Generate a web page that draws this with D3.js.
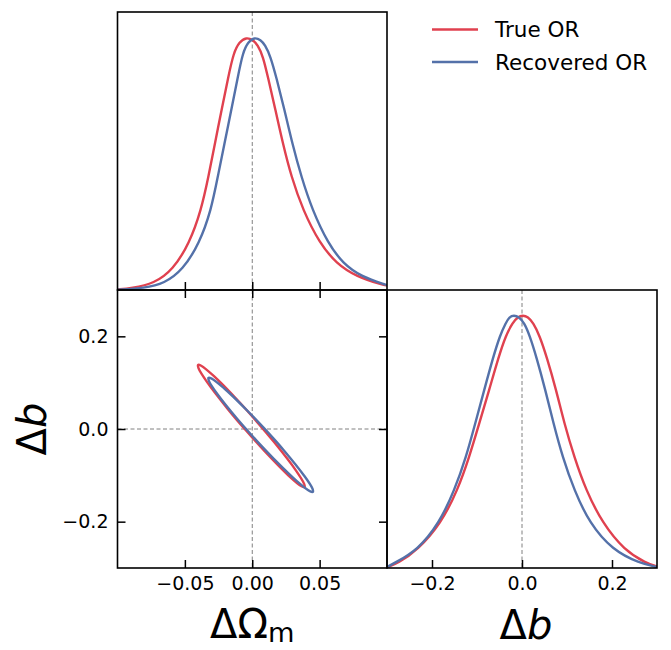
<!DOCTYPE html>
<html>
<head>
<meta charset="utf-8">
<script src="https://cdn.jsdelivr.net/npm/d3@7"></script>
<style>
  html, body { margin: 0; padding: 0; background: #fff; }
  svg { display: block; font-family: "DejaVu Sans", sans-serif; }
</style>
</head>
<body>
<svg id="chart" width="671" height="650"></svg>
<script>
// ---------------- data ----------------
const seriesNames = ["True OR", "Recovered OR"];
const seriesColors = ["#e0414f", "#5471a9"];

const omTicks = [-0.05, 0.00, 0.05];
const bTicks = [-0.2, 0.0, 0.2];

// marginal of ΔΩm: [ΔΩm, normalised density]
const omTrue = [[-0.100,0.002],[-0.0899,0.007],[-0.0726,0.026],[-0.0590,0.079],[-0.0466,0.185],[-0.0379,0.316],[-0.0325,0.448],[-0.0277,0.580],[-0.0228,0.711],[-0.0178,0.843],[-0.0138,0.940],[-0.0095,0.982],[-0.0045,1.000],[0.0005,0.990],[0.0040,0.970],[0.0080,0.925],[0.0116,0.843],[0.0173,0.711],[0.0227,0.580],[0.0290,0.448],[0.0376,0.316],[0.0500,0.185],[0.0624,0.105],[0.0773,0.053],[0.0970,0.020],[0.100,0.018]];
const omRec = [[-0.100,0.001],[-0.0800,0.007],[-0.0652,0.026],[-0.0516,0.079],[-0.0392,0.185],[-0.0305,0.316],[-0.0256,0.448],[-0.0206,0.580],[-0.0156,0.711],[-0.0107,0.843],[-0.0070,0.940],[-0.0030,0.982],[0.0017,1.000],[0.0062,0.990],[0.0095,0.970],[0.0135,0.925],[0.0178,0.843],[0.0240,0.711],[0.0297,0.580],[0.0364,0.448],[0.0446,0.316],[0.0562,0.185],[0.0673,0.105],[0.0810,0.053],[0.0996,0.020],[0.100,0.020]];

// marginal of Δb: [Δb, normalised density]
const bTrue = [[-0.300,0.003],[-0.276,0.019],[-0.232,0.071],[-0.180,0.177],[-0.143,0.308],[-0.117,0.440],[-0.095,0.572],[-0.073,0.704],[-0.052,0.835],[-0.036,0.920],[-0.021,0.970],[-0.009,0.994],[0.002,1.000],[0.013,0.994],[0.025,0.970],[0.039,0.920],[0.055,0.835],[0.076,0.704],[0.094,0.572],[0.116,0.440],[0.142,0.308],[0.179,0.177],[0.227,0.071],[0.276,0.019],[0.300,0.006]];
const bRec = [[-0.300,0.004],[-0.284,0.019],[-0.232,0.071],[-0.184,0.177],[-0.150,0.308],[-0.124,0.440],[-0.104,0.572],[-0.084,0.704],[-0.064,0.835],[-0.049,0.920],[-0.036,0.970],[-0.028,0.994],[-0.018,1.000],[-0.007,0.994],[0.005,0.970],[0.017,0.920],[0.032,0.835],[0.052,0.704],[0.070,0.572],[0.090,0.440],[0.116,0.308],[0.150,0.177],[0.201,0.071],[0.261,0.019],[0.300,0.004]];

// joint contour: [ΔΩm, Δb] points around each closed contour
const jointTrue = [[0.0389,-0.1254],[0.0365,-0.1235],[0.0271,-0.1009],[0.0092,-0.0479],[-0.0046,-0.0034],[-0.0179,0.0423],[-0.0335,0.1012],[-0.0399,0.1314],[-0.0402,0.1384],[-0.0379,0.1365],[-0.0284,0.1139],[-0.0105,0.0609],[0.0032,0.0164],[0.0165,-0.0293],[0.0321,-0.0882],[0.0385,-0.1184]];
const jointRec = [[0.0450,-0.1356],[0.0427,-0.1341],[0.0335,-0.1134],[0.0160,-0.0643],[0.0025,-0.0229],[-0.0106,0.0198],[-0.0258,0.0749],[-0.0321,0.1034],[-0.0325,0.1103],[-0.0301,0.1087],[-0.0209,0.0880],[-0.0034,0.0389],[0.0101,-0.0025],[0.0232,-0.0452],[0.0384,-0.1003],[0.0447,-0.1288]];

// ---------------- layout ----------------
const svg = d3.select("#chart");
const L = 117.5, M = 387, R = 657, T = 12, MID = 290, B = 568;
const FONT = "DejaVu Sans";

const xOm = d3.scaleLinear([-0.1, 0.1], [L, M]);
const yD1 = d3.scaleLinear([0, 1.1], [MID, T]);
const yB = d3.scaleLinear([-0.3, 0.3], [B, MID]);
const xB = d3.scaleLinear([-0.3, 0.3], [M, R]);
const yD2 = d3.scaleLinear([0, 1.1], [B, MID]);

const dashColor = "#808080";
const lw = 2.4;

function clip(id, x, y, w, h) {
  svg.append("clipPath").attr("id", id).append("rect")
    .attr("x", x).attr("y", y).attr("width", w).attr("height", h);
}
clip("c1", L, T, M - L, MID - T);
clip("c2", L, MID, M - L, B - MID);
clip("c3", M, MID, R - M, B - MID);

// dashed reference lines
function dashV(x, y0, y1) {
  svg.append("line").attr("x1", x).attr("x2", x).attr("y1", y0).attr("y2", y1)
    .attr("stroke", dashColor).attr("stroke-width", 1).attr("stroke-dasharray", "4,2.5");
}
function dashH(y, x0, x1) {
  svg.append("line").attr("y1", y).attr("y2", y).attr("x1", x0).attr("x2", x1)
    .attr("stroke", dashColor).attr("stroke-width", 1).attr("stroke-dasharray", "4,2.5");
}
dashV(xOm(0), T, MID);
dashV(xOm(0), MID, B);
dashH(yB(0), L, M);
dashV(xB(0), MID, B);

// marginal curves
const line1 = d3.line().x(d => xOm(d[0])).y(d => yD1(d[1])).curve(d3.curveBasis);
const line2 = d3.line().x(d => xB(d[0])).y(d => yD2(d[1])).curve(d3.curveBasis);
[omTrue, omRec].forEach((s, i) => {
  svg.append("path").attr("d", line1(s)).attr("fill", "none")
    .attr("stroke", seriesColors[i]).attr("stroke-width", lw).attr("clip-path", "url(#c1)");
});
[bTrue, bRec].forEach((s, i) => {
  svg.append("path").attr("d", line2(s)).attr("fill", "none")
    .attr("stroke", seriesColors[i]).attr("stroke-width", lw).attr("clip-path", "url(#c3)");
});

// joint contours
const lineJ = d3.line().x(d => xOm(d[0])).y(d => yB(d[1])).curve(d3.curveCatmullRomClosed.alpha(0.5));
[jointTrue, jointRec].forEach((s, i) => {
  svg.append("path").attr("d", lineJ(s)).attr("fill", "none")
    .attr("stroke", seriesColors[i]).attr("stroke-width", lw).attr("clip-path", "url(#c2)");
});

// axes (ticks inward)
const TL = 8, TW = 1.5, FS = 19;
function styleAxis(g) {
  g.select(".domain").remove();
  g.selectAll(".tick line").attr("stroke", "#000").attr("stroke-width", TW);
  g.selectAll(".tick text").attr("fill", "#000").attr("font-family", FONT).attr("font-size", FS);
}
svg.append("g").attr("transform", `translate(0,${MID})`)
  .call(d3.axisBottom(xOm).tickValues(omTicks).tickSize(-TL).tickFormat(""))
  .call(styleAxis);
svg.append("g").attr("transform", `translate(0,${MID})`)
  .call(d3.axisTop(xOm).tickValues(omTicks).tickSize(-TL).tickFormat(""))
  .call(styleAxis);
svg.append("g").attr("transform", `translate(0,${B})`)
  .call(d3.axisBottom(xOm).tickValues(omTicks).tickSize(-TL).tickPadding(9).tickFormat(d3.format(".2f")))
  .call(styleAxis);
svg.append("g").attr("transform", `translate(${L},0)`)
  .call(d3.axisLeft(yB).tickValues(bTicks).tickSize(-TL).tickPadding(9).tickFormat(d3.format(".1f")))
  .call(styleAxis);
svg.append("g").attr("transform", `translate(${M},0)`)
  .call(d3.axisRight(yB).tickValues(bTicks).tickSize(-TL).tickFormat(""))
  .call(styleAxis);
svg.append("g").attr("transform", `translate(0,${B})`)
  .call(d3.axisBottom(xB).tickValues(bTicks).tickSize(-TL).tickPadding(9).tickFormat(d3.format(".1f")))
  .call(styleAxis);

// frames
function frame(x0, y0, x1, y1) {
  svg.append("rect").attr("x", x0).attr("y", y0).attr("width", x1 - x0).attr("height", y1 - y0)
    .attr("fill", "none").attr("stroke", "#000").attr("stroke-width", 1.6);
}
frame(L, T, M, MID);
frame(L, MID, M, B);
frame(M, MID, R, B);

// axis labels
const LFS = 40;
const xl1 = svg.append("text").attr("x", (L + M) / 2).attr("y", 638).attr("text-anchor", "middle")
  .attr("font-family", FONT).attr("font-size", LFS).attr("fill", "#000");
xl1.append("tspan").text("ΔΩ");
xl1.append("tspan").text("m").attr("font-size", LFS * 0.68).attr("dy", 4);

const xl2 = svg.append("text").attr("x", (M + R) / 2 + 4).attr("y", 639).attr("text-anchor", "middle")
  .attr("font-family", FONT).attr("font-size", LFS).attr("fill", "#000");
xl2.append("tspan").text("Δ");
xl2.append("tspan").text("b").attr("font-style", "italic");

const yl = svg.append("text").attr("transform", `translate(46,${(MID + B) / 2}) rotate(-90)`)
  .attr("text-anchor", "middle").attr("font-family", FONT).attr("font-size", LFS).attr("fill", "#000");
yl.append("tspan").text("Δ");
yl.append("tspan").text("b").attr("font-style", "italic");

// legend
const legY = [29.5, 62];
seriesNames.forEach((name, i) => {
  svg.append("line").attr("x1", 432).attr("x2", 478).attr("y1", legY[i]).attr("y2", legY[i])
    .attr("stroke", seriesColors[i]).attr("stroke-width", lw);
  svg.append("text").attr("x", 495).attr("y", legY[i]).attr("dy", "0.36em")
    .attr("font-family", FONT).attr("font-size", 21.5).attr("fill", "#000").text(name);
});
</script>
</body>
</html>
